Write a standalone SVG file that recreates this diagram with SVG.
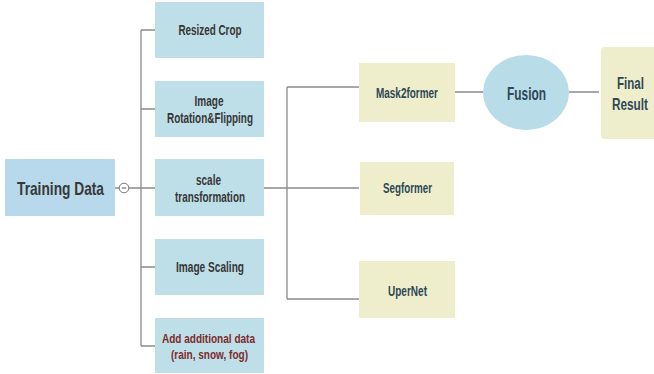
<svg xmlns="http://www.w3.org/2000/svg" width="654" height="374" viewBox="0 0 654 374">
<style>
text{font-family:"Liberation Sans Narrow","Liberation Sans",Arial,sans-serif;font-weight:bold;text-anchor:middle}
.blue{fill:#bfdfe8}
.yel{fill:#eeeecc}
.t{font-size:15px;fill:#363636}
.red{fill:#7a2b2b;font-size:13.5px}
.r{font-size:15.5px;fill:#2e4856}
.conn{stroke:#8a8a8a;stroke-width:1.3;fill:none}
</style>
<rect width="654" height="374" fill="#ffffff"/>
<g id="connectors">
<path class="conn" d="M115 188H119M129 188H155"/>
<circle cx="124" cy="188" r="4.8" fill="#ffffff" stroke="#777777" stroke-width="1"/>
<path d="M121.8 188H126.2" stroke="#555555" stroke-width="1"/>
<path class="conn" d="M141 30V346M141 30H155M141 109H155M141 267H155M141 346H155"/>
<path class="conn" d="M264 188H359M287 87V299M287 87H359M287 299H359"/>
<path class="conn" d="M455 92H483M569 92H599"/>
</g>
<g id="training-data">
<rect x="5" y="159" width="110" height="57" fill="#b8d8eb"/>
<text x="60.5" y="195" font-size="19" fill="#383838" textLength="87" lengthAdjust="spacingAndGlyphs">Training Data</text>
</g>
<g id="resized-crop">
<rect class="blue" x="155" y="2" width="109" height="56"/>
<text class="t" x="210" y="35" textLength="63" lengthAdjust="spacingAndGlyphs">Resized Crop</text>
</g>
<g id="image-rotation">
<rect class="blue" x="155" y="81" width="109" height="56"/>
<text class="t" x="209" y="106" textLength="29" lengthAdjust="spacingAndGlyphs">Image</text>
<text class="t" x="210" y="123" textLength="86" lengthAdjust="spacingAndGlyphs">Rotation&amp;Flipping</text>
</g>
<g id="scale-transformation">
<rect class="blue" x="155" y="159" width="109" height="57"/>
<text class="t" x="208.5" y="185" textLength="25" lengthAdjust="spacingAndGlyphs">scale</text>
<text class="t" x="210" y="202" textLength="70" lengthAdjust="spacingAndGlyphs">transformation</text>
</g>
<g id="image-scaling">
<rect class="blue" x="155" y="239" width="109" height="56"/>
<text class="t" x="210" y="272" textLength="68" lengthAdjust="spacingAndGlyphs">Image Scaling</text>
</g>
<g id="add-data">
<rect class="blue" x="155" y="318" width="109" height="55"/>
<text class="t red" x="208.5" y="342.5" textLength="93" lengthAdjust="spacingAndGlyphs">Add additional data</text>
<text class="t red" x="209.5" y="358.5" textLength="77" lengthAdjust="spacingAndGlyphs">(rain, snow, fog)</text>
</g>
<g id="mask2former">
<rect class="yel" x="359" y="63" width="96" height="59"/>
<text class="r" x="407" y="97.5" textLength="62" lengthAdjust="spacingAndGlyphs">Mask2former</text>
</g>
<g id="segformer">
<rect class="yel" x="360" y="162" width="94" height="53"/>
<text class="r" x="407.5" y="193" textLength="49" lengthAdjust="spacingAndGlyphs">Segformer</text>
</g>
<g id="upernet">
<rect class="yel" x="359" y="261" width="96" height="57"/>
<text class="r" x="407.5" y="295.5" textLength="39" lengthAdjust="spacingAndGlyphs">UperNet</text>
</g>
<g id="fusion">
<ellipse cx="526" cy="92.5" rx="43" ry="37.5" fill="#b8dce8"/>
<text x="526.5" y="99.5" font-size="18" fill="#2e4856" textLength="39" lengthAdjust="spacingAndGlyphs">Fusion</text>
</g>
<g id="final-result">
<rect x="601" y="47" width="60" height="92" rx="4" fill="#eeeecc"/>
<text x="630.5" y="88.5" font-size="16.5" fill="#2e4856" textLength="27" lengthAdjust="spacingAndGlyphs">Final</text>
<text x="630" y="110" font-size="16.5" fill="#2e4856" textLength="36" lengthAdjust="spacingAndGlyphs">Result</text>
</g>
</svg>
